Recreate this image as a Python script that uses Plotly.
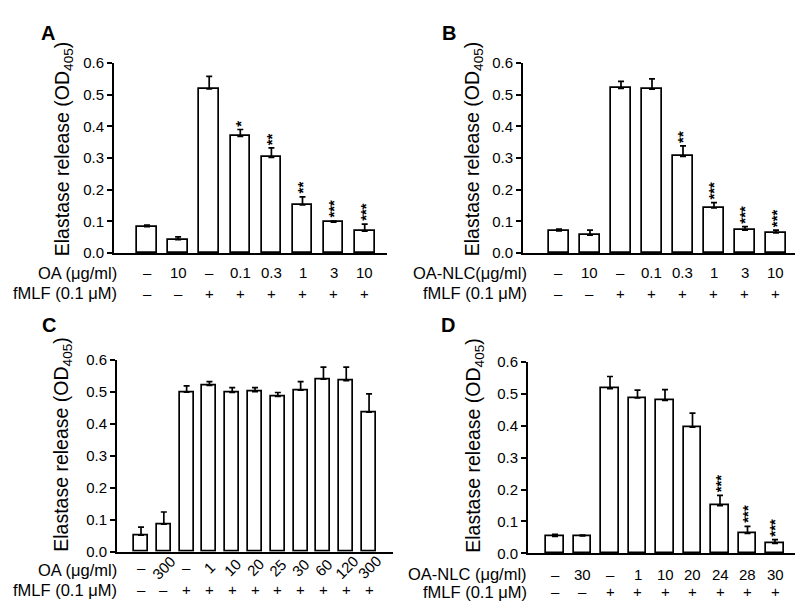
import plotly.graph_objects as go

W, H = 803, 612

# ---------------- data ----------------
a_vals = [0.083, 0.042, 0.518, 0.368, 0.302, 0.152, 0.097, 0.069]
a_errs = [0.005, 0.009, 0.040, 0.022, 0.030, 0.025, 0.004, 0.022]
a_stars = ["", "", "", "*", "**", "**", "***", "***"]
a_row1 = ["–", "10", "–", "0.1", "0.3", "1", "3", "10"]
a_row2 = ["–", "–", "+", "+", "+", "+", "+", "+"]

b_vals = [0.070, 0.056, 0.520, 0.517, 0.305, 0.142, 0.072, 0.063]
b_errs = [0.005, 0.016, 0.022, 0.033, 0.033, 0.017, 0.011, 0.009]
b_stars = ["", "", "", "", "**", "***", "***", "***"]
b_row1 = ["–", "10", "–", "0.1", "0.3", "1", "3", "10"]
b_row2 = ["–", "–", "+", "+", "+", "+", "+", "+"]

c_vals = [0.052, 0.086, 0.498, 0.519, 0.497, 0.500, 0.485, 0.504, 0.539, 0.534, 0.436]
c_errs = [0.025, 0.038, 0.020, 0.012, 0.015, 0.012, 0.012, 0.027, 0.037, 0.042, 0.057]
c_row1 = ["–", "300", "–", "1", "10", "20", "25", "30", "60", "120", "300"]
c_row2 = ["–", "–", "+", "+", "+", "+", "+", "+", "+", "+", "+"]

d_vals = [0.053, 0.055, 0.517, 0.488, 0.480, 0.396, 0.150, 0.063, 0.031]
d_errs = [0.007, 0.002, 0.038, 0.024, 0.034, 0.044, 0.032, 0.022, 0.012]
d_stars = ["", "", "", "", "", "", "***", "***", "***"]
d_row1 = ["–", "30", "–", "1", "10", "20", "24", "28", "30"]
d_row2 = ["–", "–", "+", "+", "+", "+", "+", "+", "+"]

y_ticks = [0.0, 0.1, 0.2, 0.3, 0.4, 0.5, 0.6]

FONT = "Liberation Sans, Arial, Helvetica, sans-serif"


def px_x(p):
    return p / W


def px_y(p):
    return 1 - p / H


# panel geometry (pixels)
panels = [
    dict(name="A", vals=a_vals, errs=a_errs, stars=a_stars, row1=a_row1, row2=a_row2,
         x0=106, x1=379, ytop=47.3, ybot=242.7, xr=[-1.061, 7.717], bw=0.63,
         row1y=263, head1y=263, row2y=284, head1="OA (μg/ml)", headx=110, letter=(40, 16),
         titlex=55, titley=136, rot=False),
    dict(name="B", vals=b_vals, errs=b_errs, stars=b_stars, row1=b_row1, row2=b_row2,
         x0=515, x1=798, ytop=47.3, ybot=242.7, xr=[-1.161, 7.968], bw=0.62,
         row1y=263, head1y=263, row2y=284, head1="OA-NLC(μg/ml)", headx=520, letter=(441, 16),
         titlex=465, titley=136, rot=False),
    dict(name="C", vals=c_vals, errs=c_errs, stars=[""] * 11, row1=c_row1, row2=c_row2,
         x0=109, x1=385, ytop=352.3, ybot=550, xr=[-1.053, 11.05], bw=0.61,
         row1y=566, head1y=569, row2y=589, head1="OA (μg/ml)", headx=110, letter=(41, 317),
         titlex=55, titley=440, rot=True),
    dict(name="D", vals=d_vals, errs=d_errs, stars=d_stars, row1=d_row1, row2=d_row2,
         x0=520, x1=795, ytop=355, ybot=551.7, xr=[-0.982, 9.018], bw=0.62,
         row1y=573, head1y=573, row2y=591, head1="OA-NLC (μg/ml)", headx=520, letter=(440, 317),
         titlex=467, titley=441, rot=False),
]

fig = go.Figure()
annotations = []
layout_axes = {}

for k, p in enumerate(panels):
    idx = "" if k == 0 else str(k + 1)
    xa, ya = "x" + idx, "y" + idx
    n = len(p["vals"])
    xs = list(range(n))
    fig.add_trace(go.Bar(
        x=xs, y=p["vals"], width=p["bw"], xaxis=xa, yaxis=ya,
        marker=dict(color="white", line=dict(color="black", width=1.7)),
        error_y=dict(type="data", array=p["errs"], arrayminus=[0] * n, symmetric=False,
                     color="black", thickness=1.7, width=3),
        showlegend=False, hoverinfo="skip",
    ))
    layout_axes["xaxis" + idx] = dict(
        domain=[px_x(p["x0"]), px_x(p["x1"])], range=p["xr"], anchor=ya,
        showline=True, linecolor="black", linewidth=1.7, ticks="", showticklabels=False,
        showgrid=False, zeroline=False, fixedrange=True,
    )
    layout_axes["yaxis" + idx] = dict(
        domain=[px_y(p["ybot"]), px_y(p["ytop"])], range=[0, 0.6], anchor=xa,
        showline=True, linecolor="black", linewidth=1.7, ticks="outside", ticklen=5,
        tickwidth=1.7, tickcolor="black", tickvals=y_ticks, tickformat=".1f",
        tickfont=dict(family=FONT, size=15, color="black"), showgrid=False, zeroline=False,
        fixedrange=True,
    )
    # significance stars
    for i, s in enumerate(p["stars"]):
        if s:
            annotations.append(dict(
                x=i, y=p["vals"][i] + p["errs"][i], xref=xa, yref=ya, text="<b>" + s + "</b>",
                textangle=-90, showarrow=False, yanchor="bottom", xanchor="center",
                yshift=1, font=dict(family=FONT, size=15, color="black"),
            ))
    # row labels
    for i, lab in enumerate(p["row1"]):
        rot = p["rot"] and lab != "–"
        annotations.append(dict(
            x=i, y=px_y(p["row1y"]), xref=xa, yref="paper", text=lab, showarrow=False,
            textangle=-45 if rot else 0, xanchor="center", yanchor="middle",
            font=dict(family=FONT, size=15, color="black"),
        ))
    for i, lab in enumerate(p["row2"]):
        annotations.append(dict(
            x=i, y=px_y(p["row2y"]), xref=xa, yref="paper", text=lab, showarrow=False,
            xanchor="center", yanchor="middle", font=dict(family=FONT, size=15, color="black"),
        ))
    annotations.append(dict(
        x=px_x(p["headx"]), y=px_y(p["head1y"]), xref="paper", yref="paper", text=p["head1"],
        showarrow=False, xanchor="right", yanchor="middle", borderpad=0,
        font=dict(family=FONT, size=16.5, color="black"),
    ))
    annotations.append(dict(
        x=px_x(p["headx"]), y=px_y(p["row2y"]), xref="paper", yref="paper",
        text="fMLF (0.1 μM)", showarrow=False, xanchor="right", yanchor="middle", borderpad=0,
        font=dict(family=FONT, size=16.5, color="black"),
    ))
    # y title
    annotations.append(dict(
        x=px_x(p["titlex"]), y=px_y(p["titley"]), xref="paper", yref="paper",
        text="Elastase release (OD<sub>405</sub>)", textangle=-90, showarrow=False,
        xanchor="center", yanchor="middle", font=dict(family=FONT, size=19.5, color="black"),
    ))
    # panel letter
    annotations.append(dict(
        x=px_x(p["letter"][0]), y=px_y(p["letter"][1]), xref="paper", yref="paper",
        text="<b>" + p["name"] + "</b>", showarrow=False, xanchor="center", yanchor="middle",
        font=dict(family=FONT, size=20, color="black"),
    ))

fig.update_layout(
    width=W, height=H, margin=dict(l=0, r=0, t=0, b=0),
    paper_bgcolor="white", plot_bgcolor="white",
    annotations=annotations, bargap=0, **layout_axes,
)

fig.write_html("out.html")
